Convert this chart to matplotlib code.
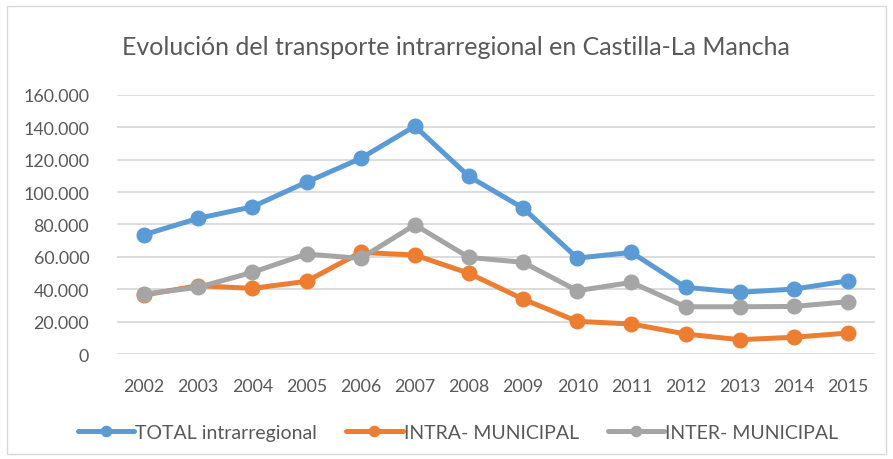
import matplotlib.pyplot as plt
import numpy as np
from matplotlib.patches import Rectangle
from matplotlib.ticker import FuncFormatter

plt.rcParams['font.family'] = ['Lato', 'DejaVu Sans']

years = ['2002', '2003', '2004', '2005', '2006', '2007', '2008', '2009',
         '2010', '2011', '2012', '2013', '2014', '2015']
total = [73700, 83800, 90900, 106100, 120700, 140600, 109600, 90100,
         59300, 62800, 41300, 38200, 40200, 45300]
intra = [36500, 42300, 40600, 45000, 62800, 61200, 49900, 34000,
         20300, 18700, 12500, 9000, 10500, 13100]
inter = [37100, 41300, 50500, 61800, 59100, 79800, 59700, 56700,
         39200, 44300, 29300, 29300, 29500, 32400]
labels = ['TOTAL intrarregional', 'INTRA- MUNICIPAL', 'INTER- MUNICIPAL']
colors = ['#5B9BD5', '#ED7D31', '#A5A5A5']
TXT = '#595959'

fig = plt.figure(figsize=(8.93, 4.6), dpi=100)
fig.patches.append(Rectangle((0.008, 0.01), 0.984, 0.975, transform=fig.transFigure,
                             fill=False, edgecolor='#D9D9D9', lw=1))
ax = fig.add_axes([0.131, 0.2276, 0.849, 0.5644])

x = np.arange(len(years))
for vals, lab, c in zip([total, intra, inter], labels, colors):
    ax.plot(x, vals, color=c, lw=3.6, marker='o', markersize=10.5, label=lab,
            solid_capstyle='round', zorder=3)

ax.set_xlim(-0.5, len(years) - 0.5)
ax.set_ylim(0, 160000)
ax.set_yticks(np.arange(0, 160001, 20000))
ax.yaxis.set_major_formatter(FuncFormatter(lambda v, p: f'{int(v):,}'.replace(',', '.')))
ax.set_xticks(x)
ax.set_xticklabels(years)
ax.grid(axis='y', color='#D9D9D9', lw=1.3)
ax.set_axisbelow(True)
for s in ax.spines.values():
    s.set_visible(False)
ax.tick_params(length=0, labelsize=12.8, colors=TXT)
ax.tick_params(axis='x', pad=17)
ax.tick_params(axis='y', pad=20)

fig.text(0.511, 0.897, 'Evolución del transporte intrarregional en Castilla-La Mancha',
         ha='center', va='center', fontsize=18, color=TXT)

fig.legend(loc='center', bbox_to_anchor=(0.513, 0.058), ncol=3, frameon=False,
           fontsize=14, labelcolor=TXT, handlelength=2.9, handletextpad=0.05,
           columnspacing=1.5, markerscale=0.7)

plt.savefig('out.png', dpi=100)
